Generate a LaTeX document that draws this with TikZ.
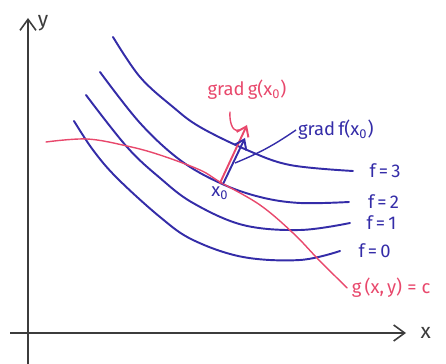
\documentclass[tikz,border=0pt]{standalone}
\usepackage{fontspec}
\setmainfont{Fira Sans}
\usetikzlibrary{arrows.meta, positioning}

\definecolor{penblue}{RGB}{52,44,168}
\definecolor{penred}{RGB}{232,72,108}
\definecolor{pengray}{RGB}{60,60,60}

\begin{document}
\begin{tikzpicture}[
        x=0.02cm, y=-0.02cm,
        eje/.style={
            draw=pengray,
            line width=0.9pt,
            -{Straight Barb[length=2.2mm, width=3.2mm]}
        },
        nivel/.style={draw=penblue, line width=1.1pt, line cap=round},
        ligadura/.style={draw=penred, line width=0.8pt, line cap=round},
        gradiente/.style={
            line width=1.1pt,
            line cap=round,
            -{Straight Barb[length=1.8mm, width=2.6mm]}
        },
        etiqueta/.style={font=\fontsize{10.5}{12}\selectfont, inner sep=1pt}
    ]
    \useasboundingbox (0,0) rectangle (446,364);

    % ejes
    \draw[eje] (28,364) -- (28,18) coordinate (ytip);
    \draw[eje] (10,333) -- (406,333) coordinate (xtip);
    \node[etiqueta, text=pengray, font=\fontsize{12}{14}\selectfont] (ylab) at (43,23) {y};
    \node[etiqueta, text=pengray, font=\fontsize{12}{14}\selectfont, right=2.5mm of xtip] (xlab) {x};

    % curvas de nivel
    \draw[nivel] plot[smooth, tension=0.6] coordinates {(113,37) (140,77) (173,107) (200,127)
        (247,150) (290,165) (353,171)}
        node[etiqueta, text=penblue, right=2.8mm] (f3) {f\,=\,3};
    \draw[nivel] plot[smooth, tension=0.6] coordinates {(100,72) (140,123) (180,160) (220,183)
        (260,197) (300,203) (349,202)}
        node[etiqueta, text=penblue, right=3.3mm] (f2) {f\,=\,2};
    \draw[nivel] plot[smooth, tension=0.6] coordinates {(86,95) (127,147) (160,178) (193,203)
        (243,225) (300,230) (350,223)}
        node[etiqueta, text=penblue, right=2.8mm] (f1) {f\,=\,1};
    \draw[nivel] plot[smooth, tension=0.6] coordinates {(74,121) (93,150) (117,178) (160,217)
        (193,240) (243,257) (300,260) (340,251)}
        node[etiqueta, text=penblue, right=3.2mm] (f0) {f\,=\,0};

    % restriccion
    \draw[ligadura] plot[smooth, tension=0.6] coordinates {(46,142) (87,139) (127,146) (160,155)
        (200,170) (220,182) (260,205) (293,233) (317,258) (337,278) (347,288)}
        node[etiqueta, text=penred, right=0.5mm] (glab) {g\,(x,\,y)\;=\;c};

    % gradientes en x0
    \coordinate (x0) at (220,183);
    \coordinate (tipg) at (247,125);
    \coordinate (tipf) at (245,138);
    \node[etiqueta, text=penblue, below=1pt of x0] (x0lab) {x\textsubscript{0}};
    \draw[gradiente, draw=penred] (x0) -- (tipg);
    \draw[gradiente, draw=penblue] ([xshift=2pt]x0) -- (tipf);

    \node[etiqueta, text=penred, above=4.6mm of tipg] (gradg) {grad\,g(x\textsubscript{0})};
    \node[etiqueta, text=penblue, anchor=west] (gradf) at (296,130) {grad\,f(x\textsubscript{0})};

    \coordinate (pg0) at (230,112);
    \coordinate (pg) at (239,130);
    \coordinate (pf) at (235,163);
    \draw[ligadura] (pg0) to[out=-95, in=200] (pg);
    \draw[penblue, line width=0.8pt] (gradf.west) to[bend left=6] (pf);
\end{tikzpicture}
\end{document}
